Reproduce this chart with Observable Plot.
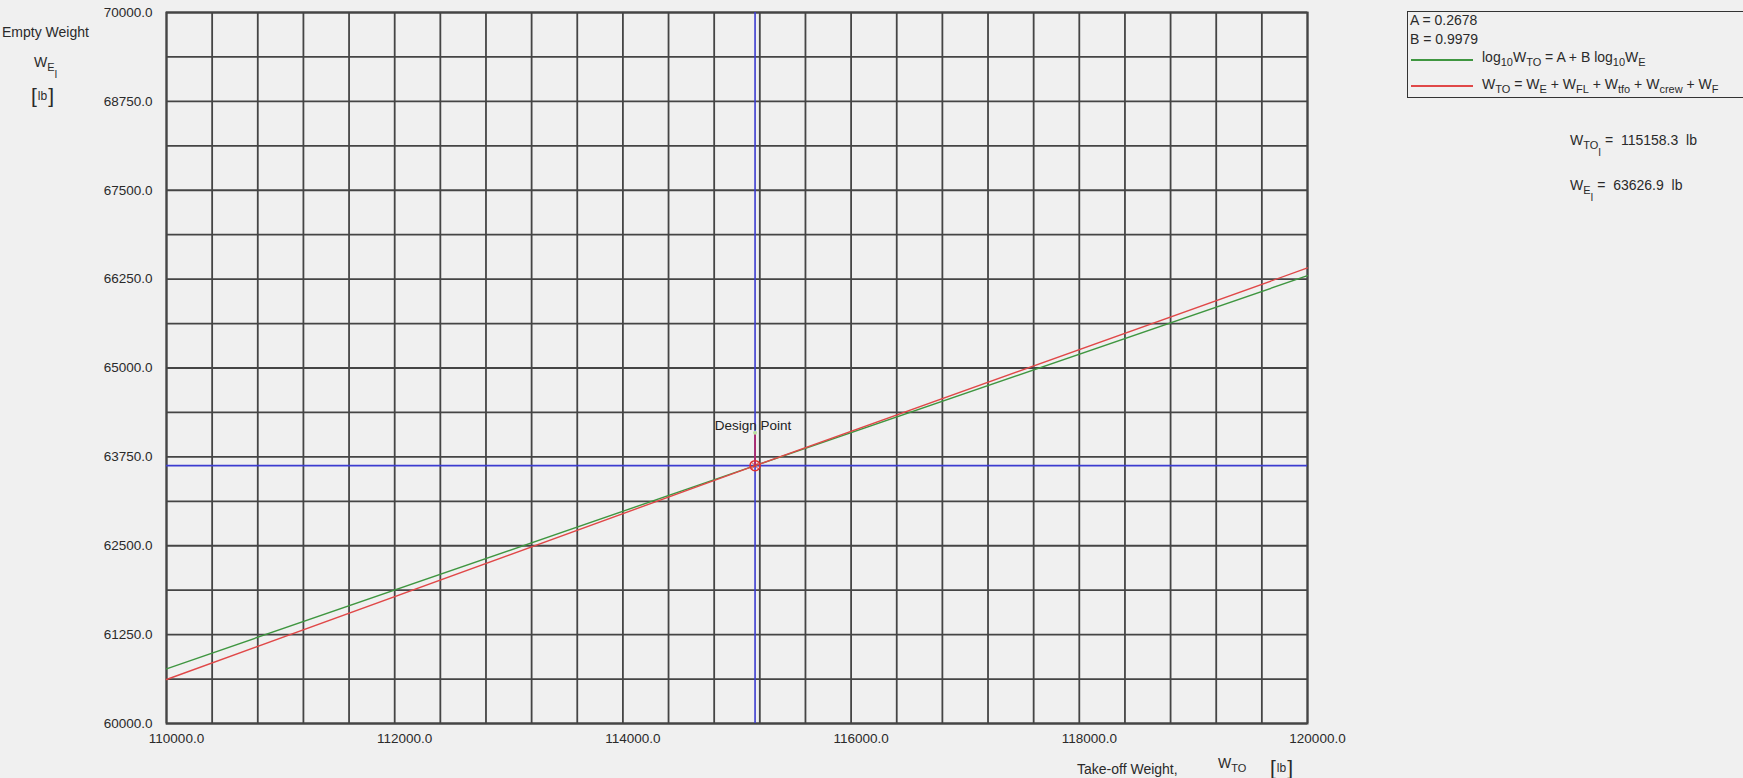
<!DOCTYPE html>
<html>
<head>
<meta charset="utf-8">
<script src="https://cdn.jsdelivr.net/npm/d3@7"></script>
<script src="https://cdn.jsdelivr.net/npm/@observablehq/plot@0.6"></script>
<style>
  html, body { margin: 0; padding: 0; background: #f0f0f0; }
  #wrap { position: relative; width: 1743px; height: 778px; font-family: "Liberation Sans", Arial, sans-serif; color: #2a2a2a; font-size: 14px; overflow: hidden; }
  .abs { position: absolute; white-space: nowrap; line-height: 16px; }
  .sub { font-size: 11px; position: relative; top: 4px; }
  .sub2 { font-size: 10px; position: relative; top: 7px; }
  .br { font-size: 21px; font-weight: 300; }
  .lb { font-size: 12px; position: relative; top: -3px; padding: 0 1px; }
  .seg { position: absolute; height: 1.5px; }
</style>
</head>
<body>
<div id="wrap"></div>
<script>
// ---- data ----
const wTO = [110000, 115158.3, 120000];              // take-off weight, lb
const weRegression = [60769, 63626.9, 66298];         // green: log10 WTO = A + B log10 WE
const weSizing = [60619, 63626.9, 66407];             // red: WTO = WE + WFL + Wtfo + Wcrew + WF
const designPoint = {x: 115158.3, y: 63626.9};
const designMarkerTop = 64090;
const xTicks = [110000, 112000, 114000, 116000, 118000, 120000];
const yTicks = [60000, 61250, 62500, 63750, 65000, 66250, 67500, 68750, 70000];
const xGrid = d3.range(110000, 120001, 400);
const yGrid = d3.range(60000, 70001, 625);

const green = wTO.map((x, i) => ({x, y: weRegression[i]}));
const red = wTO.map((x, i) => ({x, y: weSizing[i]}));

const gridColor = "#454545";
const blue = "#3c3cd0";
const greenColor = "#3f9640";
const redColor = "#e04848";

const chart = Plot.plot({
  width: 1743,
  height: 778,
  marginLeft: 166,
  marginRight: 436,
  marginTop: 12,
  marginBottom: 55,
  x: {domain: [110000, 120000]},
  y: {domain: [60000, 70000]},
  style: {background: "#f0f0f0", fontSize: "13.5px", fontFamily: "Liberation Sans, Arial, sans-serif", color: "#2a2a2a"},
  marks: [
    Plot.gridX(xGrid, {stroke: gridColor, strokeOpacity: 1, strokeWidth: 1.8}),
    Plot.gridY(yGrid, {stroke: gridColor, strokeOpacity: 1, strokeWidth: 1.8}),
    Plot.frame({stroke: gridColor, strokeWidth: 2}),
    Plot.axisX(xTicks, {tickFormat: d => d.toFixed(1), tickSize: 0, tickPadding: 10, dx: 10, label: null}),
    Plot.axisY(yTicks, {tickFormat: d => d.toFixed(1), tickSize: 0, tickPadding: 14, label: null}),
    Plot.ruleX([designPoint.x], {stroke: blue, strokeWidth: 1.6}),
    Plot.ruleY([designPoint.y], {stroke: blue, strokeWidth: 1.6}),
    Plot.line(green, {x: "x", y: "y", stroke: greenColor, strokeWidth: 1.4}),
    Plot.line(red, {x: "x", y: "y", stroke: redColor, strokeWidth: 1.4}),
    Plot.ruleX([designPoint.x], {y1: designPoint.y, y2: designMarkerTop, stroke: "#b02a6a", strokeWidth: 1.8}),
    Plot.dot([designPoint], {x: "x", y: "y", r: 5, stroke: "#e03030", strokeWidth: 1.5, fill: "none"}),
    Plot.dot([designPoint], {x: "x", y: "y", r: 3, stroke: "#e03030", strokeWidth: 1, fill: "none", symbol: "times"}),
    Plot.dot([{x: designPoint.x, y: designMarkerTop}], {x: "x", y: "y", r: 2, fill: "#b8e0a0", stroke: "none"}),
    Plot.text(["Design Point"], {x: designPoint.x, y: designMarkerTop, dy: -7, dx: -2, textAnchor: "middle", fill: "#222", fontSize: 13.5})
  ]
});

const wrap = document.getElementById("wrap");
wrap.appendChild(chart);

function addHTML(html, left, top, extra, cls) {
  const d = document.createElement("div");
  d.className = cls || "abs";
  d.style.left = left + "px";
  d.style.top = top + "px";
  if (extra) Object.assign(d.style, extra);
  d.innerHTML = html;
  wrap.appendChild(d);
  return d;
}
const lbHTML = '<span class="br">[</span><span class="lb">lb</span><span class="br">]</span>';

// y-axis title
addHTML("Empty Weight", 2, 24);
addHTML('W<span class="sub">E<span class="sub2">I</span></span>', 34, 54);
addHTML(lbHTML, 31, 85, {lineHeight: "22px"});

// x-axis title
addHTML("Take-off Weight,", 1077, 761);
addHTML('W<span class="sub">TO</span>', 1218, 755);
addHTML(lbHTML, 1270, 757, {lineHeight: "22px"});

// legend box
addHTML("", 1407, 11, {width: "340px", height: "87px", border: "1.5px solid #333", boxSizing: "border-box"});
addHTML("A = 0.2678", 1410, 12);
addHTML("B = 0.9979", 1410, 31);
addHTML("", 1411, 59, {width: "62px", background: greenColor}, "seg");
addHTML('log<span class="sub">10</span>W<span class="sub">TO</span> = A + B log<span class="sub">10</span>W<span class="sub">E</span>', 1482, 49);
addHTML("", 1411, 85, {width: "62px", background: redColor}, "seg");
addHTML('W<span class="sub">TO</span> = W<span class="sub">E</span> + W<span class="sub">FL</span> + W<span class="sub">tfo</span> + W<span class="sub">crew</span> + W<span class="sub">F</span>', 1482, 76);

// design values
addHTML('W<span class="sub">TO<span class="sub2">I</span></span> = &nbsp;115158.3 &nbsp;lb', 1570, 132);
addHTML('W<span class="sub">E<span class="sub2">I</span></span> = &nbsp;63626.9 &nbsp;lb', 1570, 177);
</script>
</body>
</html>
